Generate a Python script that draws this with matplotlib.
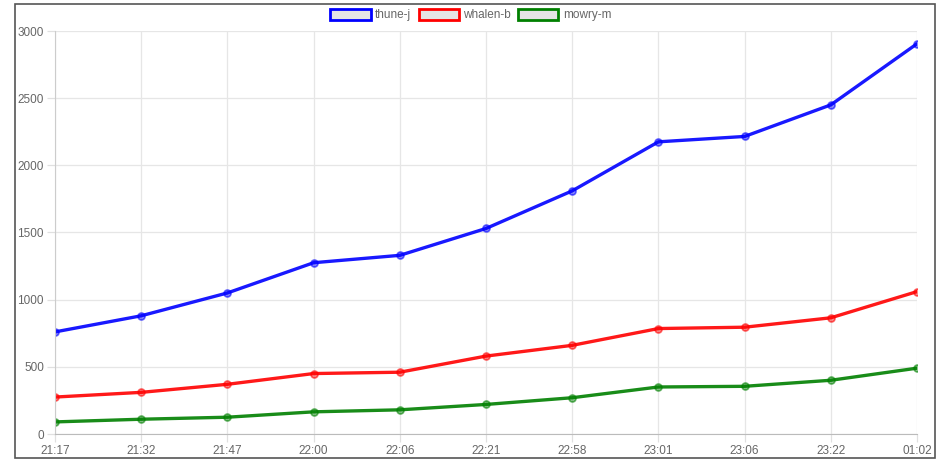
import matplotlib
matplotlib.use("Agg")
import matplotlib.pyplot as plt
from matplotlib.patches import Patch, Rectangle
from matplotlib.colors import to_rgba

plt.rcParams["font.family"] = ["Liberation Sans", "DejaVu Sans"]

categories = ["21:17", "21:32", "21:47", "22:00", "22:06", "22:21", "22:58", "23:01", "23:06", "23:22", "01:02"]
thune_j = [760, 880, 1050, 1275, 1330, 1530, 1810, 2175, 2215, 2450, 2905]
whalen_b = [275, 310, 370, 450, 460, 580, 660, 785, 795, 865, 1060]
mowry_m = [90, 110, 125, 165, 180, 220, 270, 350, 355, 400, 490]
series_names = ["thune-j", "whalen-b", "mowry-m"]
series_colors = ["#0000ff", "#ff0000", "#008000"]
yticks = [0, 500, 1000, 1500, 2000, 2500, 3000]

W, H = 941, 461
fig = plt.figure(figsize=(W / 100, H / 100), dpi=100)
fig.patch.set_facecolor("white")

# outer frame
fig.add_artist(Rectangle((15 / W, 3 / H), (935 - 15) / W, (457 - 3) / H,
                         transform=fig.transFigure, fill=False,
                         edgecolor="#555555", linewidth=1.2))

ax = fig.add_axes([55 / W, 1 - 434 / H, (917 - 55) / W, (434 - 31) / H])
x = list(range(len(categories)))
for vals, name, col in zip([thune_j, whalen_b, mowry_m], series_names, series_colors):
    ax.plot(x, vals, color=col, linewidth=2.4, alpha=0.9, label=name,
            solid_joinstyle="round", solid_capstyle="round")
    ax.plot(x, vals, linestyle="none", marker="o", markersize=5,
            markerfacecolor=to_rgba(col, 0.45), markeredgecolor=to_rgba(col, 0.6),
            markeredgewidth=1.2)

ax.set_xlim(0, len(categories) - 1)
ax.set_ylim(0, 3000)
ax.set_xticks(x)
ax.set_xticklabels(categories)
ax.set_yticks(yticks)
ax.set_yticklabels([str(v) for v in yticks])
ax.grid(True, color="#e6e6e6", linewidth=0.9)
ax.set_axisbelow(True)
for s in ["top", "right"]:
    ax.spines[s].set_visible(False)
ax.spines["left"].set_color("#cccccc")
ax.spines["bottom"].set_color("#bbbbbb")
ax.tick_params(axis="both", colors="#e0e0e0", labelcolor="#666666",
               labelsize=8.5, length=6, width=0.9, pad=2)

handles = [Patch(facecolor="#e5e5e5", edgecolor=c, linewidth=2, label=n)
           for n, c in zip(series_names, series_colors)]
leg = fig.legend(handles=handles, loc="center", bbox_to_anchor=(471 / W, 1 - 15 / H),
                 ncol=3, frameon=False, fontsize=8.5, handlelength=3.4, handleheight=1.1,
                 handletextpad=0.4, columnspacing=0.6)
for t in leg.get_texts():
    t.set_color("#666666")

fig.savefig("out.png", dpi=100)
